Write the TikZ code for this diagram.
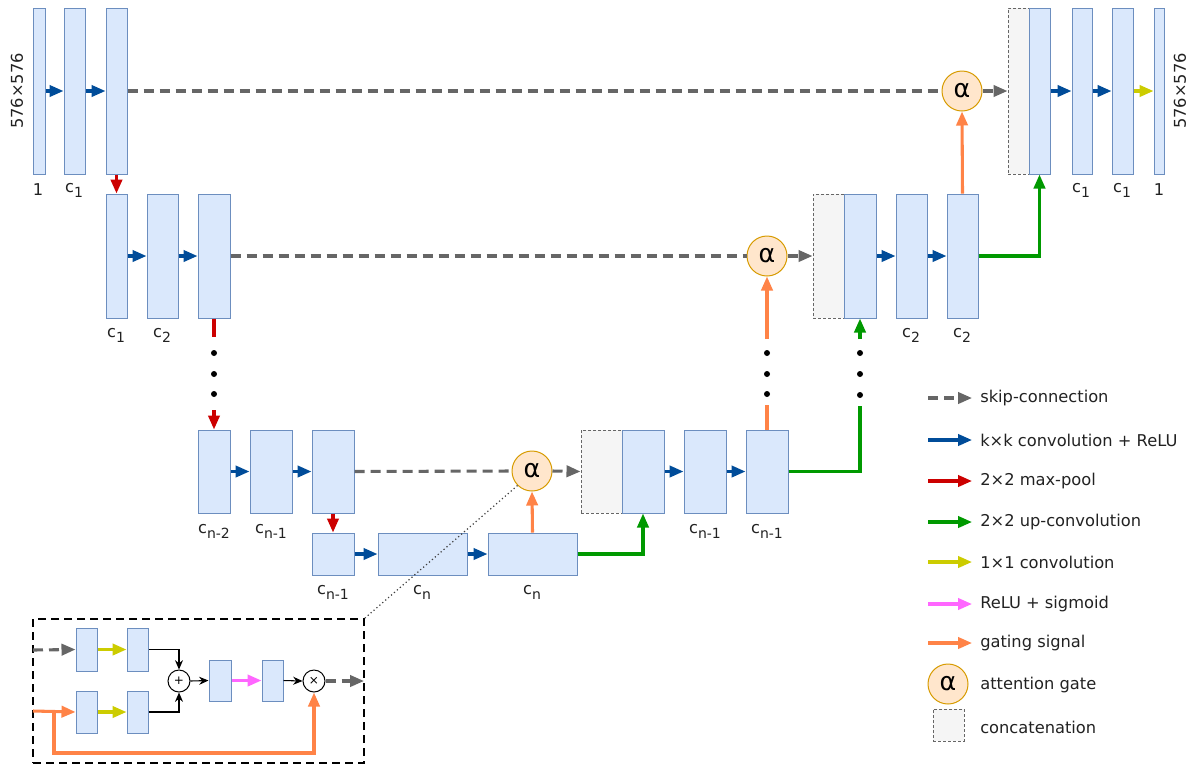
\documentclass[tikz,border=0pt]{standalone}
\usepackage{fontspec}
\setmainfont{DejaVu Sans}
\usetikzlibrary{arrows.meta,fit,calc}
\definecolor{bfill}{HTML}{DAE8FC}
\definecolor{bstroke}{HTML}{6C8EBF}
\definecolor{cfill}{HTML}{F5F5F5}
\definecolor{cstroke}{HTML}{666666}
\definecolor{afill}{HTML}{FFE6CC}
\definecolor{astroke}{HTML}{D79B00}
\definecolor{cblue}{HTML}{004C99}
\definecolor{cred}{HTML}{CC0000}
\definecolor{cgreen}{HTML}{009900}
\definecolor{cyellow}{HTML}{CCCC00}
\definecolor{cpink}{HTML}{FF66FF}
\definecolor{corange}{HTML}{FF8347}
\definecolor{cgray}{HTML}{666666}
\definecolor{txt}{HTML}{222222}
\newcommand\sbs[1]{\raisebox{-0.55ex}{\fontsize{10.5}{10.5}\selectfont #1}}
\newcommand\mkblk[5]{\node[blk, fit={(#2,#3)(#4,#5)}] (#1) {};}
\newcommand\mkcat[5]{\node[catbox, fit={(#2,#3)(#4,#5)}] (#1) {};}
\begin{document}
\begin{tikzpicture}[x=0.75pt,y=-0.75pt,
  blk/.style={draw=bstroke, fill=bfill, line width=0.75pt, inner sep=0pt},
  catbox/.style={draw=cstroke, fill=cfill, dash pattern=on 2.25pt off 1.5pt, line width=0.75pt, inner sep=0pt},
  gate/.style={circle, draw=astroke, fill=afill, line width=0.75pt, minimum size=30pt, inner sep=0pt, font=\fontsize{19}{19}\selectfont},
  lbl/.style={font=\fontsize{12.2}{12.2}\selectfont, text=txt, inner sep=0pt},
  hd/.style={-{Triangle[length=10.5pt,width=8.5pt]}},
  lw/.style={line width=2.3pt},
  conv/.style={draw=cblue, lw, hd},
  pool/.style={draw=cred, lw, hd},
  poolline/.style={draw=cred, lw},
  up/.style={draw=cgreen, lw, hd},
  upline/.style={draw=cgreen, lw},
  one/.style={draw=cyellow, lw, hd},
  sig/.style={draw=cpink, lw, hd},
  gating/.style={draw=corange, lw, hd},
  gatingline/.style={draw=corange, lw},
  skip/.style={draw=cgray, lw, dash pattern=on 7.5pt off 4.5pt},
  skiparr/.style={skip, hd},
  dot/.style={circle, fill=black, inner sep=0pt, minimum size=4.5pt},
  thinarr/.style={draw=black, line width=0.8pt, -{Stealth[length=7pt,width=6pt]}},
  opc/.style={circle, draw=black, fill=white, line width=0.75pt, minimum size=16.5pt, inner sep=0pt, font=\fontsize{9}{9}\selectfont}
]
\useasboundingbox (0,0) rectangle (1188,765);

% ---------- level 1 ----------
\mkblk{a1}{33}{8}{45}{174}
\mkblk{a2}{64}{8}{85}{174}
\mkblk{a3}{106}{8}{127}{174}
\mkcat{cat1}{1008}{8}{1029}{174}
\mkblk{u1a}{1029}{8}{1050}{174}
\mkblk{u1b}{1072}{8}{1092}{174}
\mkblk{u1c}{1112}{8}{1133}{174}
\mkblk{out}{1154}{8}{1164}{174}
\node[gate] (g1) at (962,91) {α};

% ---------- level 2 ----------
\mkblk{b1}{106}{194}{127}{318}
\mkblk{b2}{147}{194}{178}{318}
\mkblk{b3}{198}{194}{230}{318}
\mkcat{cat2}{813}{194}{844}{318}
\mkblk{u2a}{844}{194}{876}{318}
\mkblk{u2b}{896}{194}{927}{318}
\mkblk{u2c}{947}{194}{978}{318}
\node[gate] (g2) at (767,256) {α};

% ---------- level 3 ----------
\mkblk{c1}{198}{430}{230}{513}
\mkblk{c2}{250}{430}{292}{513}
\mkblk{c3}{312}{430}{354}{513}
\mkcat{cat3}{581}{430}{622}{513}
\mkblk{u3a}{622}{430}{664}{513}
\mkblk{u3b}{684}{430}{726}{513}
\mkblk{u3c}{746}{430}{788}{513}
\node[gate] (g3) at (532,471) {α};

% ---------- bottom ----------
\mkblk{d1}{312}{533}{354}{575}
\mkblk{d2}{378}{533}{467}{575}
\mkblk{d3}{488}{533}{577}{575}

% ---------- labels ----------
\node[lbl, rotate=90] (dimL) at (17,91) {576×576};
\node[lbl, rotate=90] (dimR) at (1180,91) {576×576};
\node[lbl] (la1) at (38,190) {1};
\node[lbl] (la2) at (74,190) {c\sbs{1}};
\node[lbl] (lu1b) at (1081,190) {c\sbs{1}};
\node[lbl] (lu1c) at (1122,190) {c\sbs{1}};
\node[lbl] (lout) at (1159,190) {1};
\node[lbl] (lb1) at (116,335) {c\sbs{1}};
\node[lbl] (lb2) at (162,335) {c\sbs{2}};
\node[lbl] (lu2b) at (911,335) {c\sbs{2}};
\node[lbl] (lu2c) at (962,335) {c\sbs{2}};
\node[lbl] (lc1) at (214,531) {c\sbs{n-2}};
\node[lbl] (lc2) at (271,531) {c\sbs{n-1}};
\node[lbl] (lu3b) at (705,531) {c\sbs{n-1}};
\node[lbl] (lu3c) at (767,531) {c\sbs{n-1}};
\node[lbl] (ld1) at (333,592) {c\sbs{n-1}};
\node[lbl] (ld2) at (422,592) {c\sbs{n}};
\node[lbl] (ld3) at (532,592) {c\sbs{n}};

% ---------- connectors level 1 ----------
\draw[conv] (a1.east) -- (a2.west);
\draw[conv] (a2.east) -- (a3.west);
\draw[skip] (a3.east) -- (g1.west);
\draw[skiparr] (g1.east) -- (cat1.west);
\draw[conv] (u1a.east) -- (u1b.west);
\draw[conv] (u1b.east) -- (u1c.west);
\draw[one] (u1c.east) -- (out.west);
\draw[pool] (a3.south) -- (b1.north);

% ---------- connectors level 2 ----------
\draw[conv] (b1.east) -- (b2.west);
\draw[conv] (b2.east) -- (b3.west);
\draw[skip] (b3.east) -- (g2.west);
\draw[skiparr] (g2.east) -- (cat2.west);
\draw[conv] (u2a.east) -- (u2b.west);
\draw[conv] (u2b.east) -- (u2c.west);
\draw[gating] (u2c.north) -- (g1.south);
\draw[up] (u2c.east) -| (u1a.south);

% red path with dots
\coordinate (rA) at (214,337);
\coordinate (rB) at (214,410);
\draw[poolline] (b3.south) -- (rA);
\node[dot] (dr1) at (214,353) {};
\node[dot] (dr2) at (214,374) {};
\node[dot] (dr3) at (214,394) {};
\draw[pool] (rB) -- (c1.north);

% ---------- connectors level 3 ----------
\draw[conv] (c1.east) -- (c2.west);
\draw[conv] (c2.east) -- (c3.west);
\draw[skip] (c3.east) -- (g3.west);
\draw[skiparr] (g3.east) -- (cat3.west);
\draw[pool] (c3.south) -- (d1.north);
\draw[conv] (d1.east) -- (d2.west);
\draw[conv] (d2.east) -- (d3.west);
\draw[gating] (d3.north) -- (g3.south);
\draw[up] (d3.east) -| (u3a.south);
\draw[conv] (u3a.east) -- (u3b.west);
\draw[conv] (u3b.east) -- (u3c.west);

% orange path with dots
\coordinate (oA) at (767,405);
\coordinate (oB) at (767,339);
\draw[gatingline] (u3c.north) -- (oA);
\node[dot] (do1) at (767,353) {};
\node[dot] (do2) at (767,374) {};
\node[dot] (do3) at (767,394) {};
\draw[gating] (oB) -- (g2.south);

% green path with dots
\coordinate (gA) at (860,406);
\coordinate (gB) at (860,339);
\draw[upline] (u3c.east) -| (gA);
\node[dot] (dg1) at (860,353) {};
\node[dot] (dg2) at (860,374) {};
\node[dot] (dg3) at (860,395) {};
\draw[up] (gB) -- (u2a.south);

% ---------- inset ----------
\node[draw=black, line width=1.5pt, dash pattern=on 6pt off 3.75pt, inner sep=0pt, fit={(33,619)(364,763)}] (inset) {};
\draw[black!75, line width=0.9pt, dotted] (g3.225) -- (inset.north east);
\mkblk{ia1}{76}{628}{97}{671}
\mkblk{ia2}{127}{628}{148}{671}
\mkblk{ib1}{76}{691}{97}{733}
\mkblk{ib2}{127}{691}{148}{733}
\mkblk{ic}{209}{660}{231}{701}
\mkblk{id}{262}{660}{283}{701}
\node[opc] (pl) at (179,681) {+};
\node[opc] (tm) at (314,681) {×};
\coordinate (inA) at (33,650);
\coordinate (inB) at (33,711);
\coordinate (br) at (54,711);
\coordinate (brB) at (54,753);
\coordinate (outI) at (364,681);
\draw[skiparr] (inA) -- (ia1.west);
\draw[one] (ia1.east) -- (ia2.west);
\draw[gating] (inB) -- (ib1.west);
\draw[one] (ib1.east) -- (ib2.west);
\draw[gating] (br) -- (brB) -| (tm.south);
\draw[thinarr] (ia2.east) -| (pl.north);
\draw[thinarr] (ib2.east) -| (pl.south);
\draw[thinarr] (pl.east) -- (ic.west);
\draw[sig] (ic.east) -- (id.west);
\draw[thinarr] (id.east) -- (tm.west);
\draw[skiparr] (tm.east) -- (outI);

% ---------- legend ----------
\foreach \nm/\y/\st/\tx in {l1/398/skiparr/skip-connection,
                            l2/440/conv/k×k convolution + ReLU,
                            l3/481/pool/2×2 max-pool,
                            l4/522/up/2×2 up-convolution,
                            l5/562/one/1×1 convolution,
                            l6/604/sig/ReLU + sigmoid,
                            l7/643/gating/gating signal}{
  \coordinate (\nm s) at (928,\y);
  \coordinate (\nm e) at (972,\y);
  \draw[\st] (\nm s) -- (\nm e);
  \node[lbl, anchor=west] (\nm t) at (980,\y) {\tx};
}
\node[gate] (lg) at (948,684) {α};
\node[lbl, anchor=west] (lgt) at (980,685) {attention gate};
\mkcat{lc}{933}{709}{964}{741}
\node[lbl, anchor=west] (lct) at (980,727) {concatenation};
\end{tikzpicture}
\end{document}
